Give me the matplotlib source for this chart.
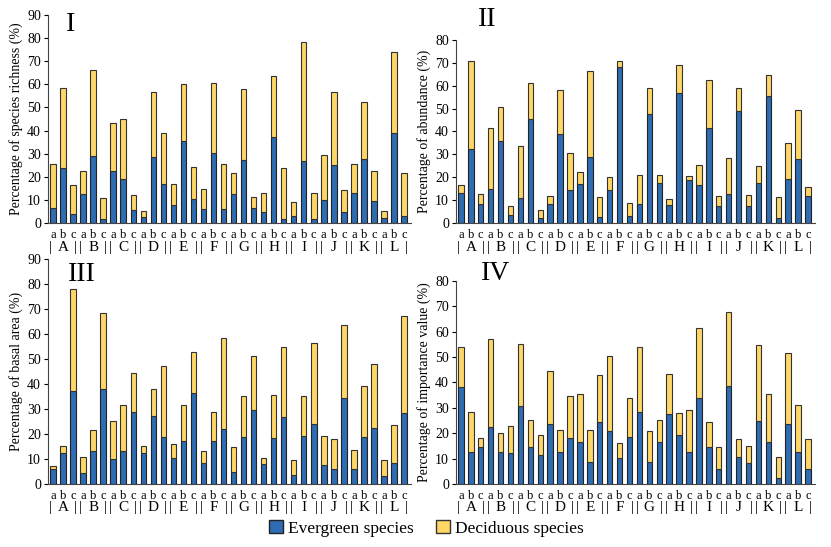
import numpy as np
import matplotlib
matplotlib.use("Agg")
import matplotlib.pyplot as plt
from matplotlib.patches import Patch

plt.rcParams['font.family'] = ['Liberation Serif', 'DejaVu Serif']

groups = ["A", "B", "C", "D", "E", "F", "G", "H", "I", "J", "K", "L"]
subs = ["a", "b", "c"]

# evergreen part and bar total (a, b, c per group)
rich_ever = [6.5, 24, 3.9, 12.5, 29, 1.6, 22.6, 19, 5.5, 2.6, 28.5, 17,
             7.6, 35.4, 10.5, 6, 30.1, 6, 12.5, 27.2, 6.5, 4.8, 37.3, 1.6,
             3.2, 26.8, 1.6, 9.9, 24.9, 4.8, 13, 27.7, 9.5, 2, 38.8, 2.9]
rich_total = [25.5, 58.5, 16.4, 22.6, 66.4, 10.7, 43.1, 45, 12, 5.2, 56.6, 38.8,
              16.9, 60.1, 24.2, 14.6, 60.4, 25.4, 21.6, 57.8, 11.4, 13, 63.8, 23.8,
              9.2, 78.4, 13, 29.4, 56.6, 14.4, 25.6, 52.2, 22.6, 5.2, 73.9, 21.6]

abund_ever = [13, 32.5, 8.5, 15, 36, 3.5, 11, 45.5, 2, 8.5, 39, 14.5,
              17, 29, 2.5, 14.5, 68, 2.9, 8.3, 47.8, 17.4, 8, 56.7, 18.6,
              16.8, 41.4, 7.6, 12.6, 49, 7.6, 17.4, 55.7, 2.3, 19.3, 27.8, 12]
abund_total = [16.5, 71, 12.5, 41.5, 50.5, 7.5, 33.5, 61, 5.5, 12, 58, 30.5,
               22.5, 66.5, 11.5, 20, 71, 8.9, 20.9, 58.8, 20.9, 10.7, 69, 20.5,
               25.4, 62.6, 12, 28.5, 59.2, 12.4, 24.9, 64.5, 11.4, 34.8, 49.4, 15.9]

basal_ever = [5.9, 12.3, 37, 4.5, 13.1, 37.8, 10, 13, 28.6, 12.3, 27, 18.6,
              10.3, 17, 36.4, 8.5, 17.1, 21.9, 4.8, 18.7, 29.5, 7.9, 18.3, 26.7,
              3.7, 19.1, 23.9, 7.5, 5.9, 34.3, 5.9, 18.7, 22.2, 3.1, 8.3, 28.4]
basal_total = [7.2, 15.2, 78, 10.7, 21.4, 68.4, 25, 31.4, 44.3, 15.2, 38, 47,
               16, 31.4, 52.6, 13.2, 28.7, 58.5, 14.7, 35.1, 51.3, 10.4, 35.5, 54.7,
               9.5, 35.1, 56.3, 19, 18, 63.7, 13.5, 39.3, 47.8, 9.7, 23.6, 67.2]

iv_ever = [38.4, 12.7, 14.7, 22.4, 12.7, 12.2, 30.9, 14.7, 11.4, 23.5, 12.7, 18.3,
           16.4, 8.5, 24.4, 20.7, 10.3, 18.5, 28.3, 8.7, 16.5, 27.7, 19.5, 12.5,
           33.8, 14.5, 5.9, 38.7, 10.6, 8.3, 24.8, 16.6, 2.5, 23.7, 12.7, 5.9]
iv_total = [53.9, 28.3, 18.1, 57, 20.2, 22.9, 55.3, 25.2, 19.4, 44.6, 21.1, 34.5,
            35.6, 21.1, 42.9, 50.3, 16.1, 33.8, 54.1, 20.8, 25.3, 43.4, 28, 29.1,
            61.3, 24.6, 14.5, 67.9, 17.8, 14.8, 54.7, 35.3, 10.7, 51.8, 31.2, 17.6]

BLUE = "#2e6db4"
YELLOW = "#fed766"


def draw_panel(ax, ever, total, ymax, ylabel, roman, roman_xy):
    ever = np.array(ever)
    decid = np.array(total) - ever
    x = np.arange(len(ever))

    ax.bar(x, ever, width=0.55, color=BLUE, edgecolor="#222222", linewidth=0.8)
    ax.bar(x, decid, width=0.55, bottom=ever, color=YELLOW,
           edgecolor="#333333", linewidth=0.8)

    ax.set_xlim(-0.5, 35.7)
    ax.set_ylim(0, ymax)
    ax.set_yticks(np.arange(0, ymax + 1, 10))
    ax.set_xticks([])
    ax.tick_params(axis="y", direction="out", length=3, labelsize=10, pad=2)
    for s in ["top", "right"]:
        ax.spines[s].set_visible(False)
    ax.spines["left"].set_color("#444444")
    ax.spines["bottom"].set_color("#444444")
    ax.set_ylabel(ylabel, fontsize=10, labelpad=3)

    # a b c under each bar, then | X | under each group
    for i in x:
        ax.annotate(subs[i % 3], xy=(i, 0), xycoords=("data", "axes fraction"),
                    xytext=(0, -12), textcoords="offset pixels",
                    ha="center", va="center", fontsize=9)
    for g, name in enumerate(groups):
        for xx, t in [(3 * g - 0.25, "|"), (3 * g + 1, name), (3 * g + 2.25, "|")]:
            ax.annotate(t, xy=(xx, 0), xycoords=("data", "axes fraction"),
                        xytext=(0, -24), textcoords="offset pixels",
                        ha="center", va="center", fontsize=11)

    ax.text(roman_xy[0], roman_xy[1], roman, fontsize=20, ha="left",
            va="center", clip_on=False)


fig = plt.figure(figsize=(8.31, 5.47), dpi=100)

ax1 = fig.add_axes([0.0578, 0.5923, 0.4368, 0.3803])
ax2 = fig.add_axes([0.5487, 0.5923, 0.4320, 0.3346])
ax3 = fig.add_axes([0.0578, 0.1152, 0.4368, 0.4113])
ax4 = fig.add_axes([0.5487, 0.1152, 0.4320, 0.3711])

draw_panel(ax1, rich_ever, rich_total, 90,
           "Percentage of species richness (%)", "I", (1.3, 86))
draw_panel(ax2, abund_ever, abund_total, 80,
           "Percentage of abundance (%)", "II", (1.7, 89))
draw_panel(ax3, basal_ever, basal_total, 90,
           "Percentage of basal area (%)", "III", (1.5, 84))
draw_panel(ax4, iv_ever, iv_total, 80,
           "Percentage of importance value (%)", "IV", (2.0, 83))

handles = [Patch(facecolor=BLUE, edgecolor="#222222", label="Evergreen species"),
           Patch(facecolor=YELLOW, edgecolor="#333333", label="Deciduous species")]
fig.legend(handles=handles, loc="center", bbox_to_anchor=(0.513, 0.034), ncol=2,
           frameon=False, fontsize=12.5, handlelength=0.8, handleheight=0.8,
           handletextpad=0.3, columnspacing=1.3, borderpad=0.1)

fig.savefig("out.png", dpi=100)
